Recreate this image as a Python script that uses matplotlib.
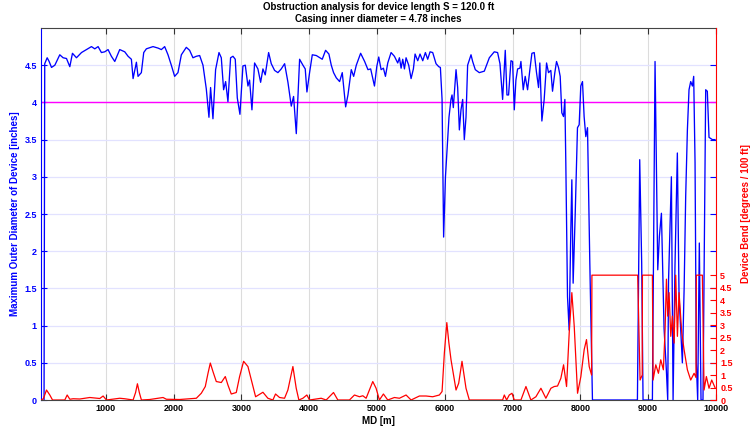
import numpy as np
import matplotlib.pyplot as plt

# maximum device outer diameter along the well [inches]
od_md = [90, 100, 136, 165, 200, 249, 322, 371, 421, 470, 509, 568, 642, 715, 789, 838, 887, 936, 985,
         1034, 1083, 1133, 1206, 1280, 1329, 1378, 1403, 1452, 1476, 1525, 1560, 1599, 1697, 1771, 1820,
         1869, 1918, 1967, 2016, 2065, 2115, 2188, 2237, 2286, 2336, 2385, 2434, 2483, 2522, 2546, 2581,
         2620, 2670, 2704, 2738, 2768, 2802, 2841, 2876, 2910, 2940, 2979, 3023, 3058, 3097, 3121, 3156,
         3195, 3244, 3284, 3318, 3352, 3402, 3441, 3490, 3539, 3588, 3638, 3687, 3736, 3770, 3810, 3859,
         3908, 3942, 3967, 4006, 4046, 4105, 4193, 4242, 4291, 4326, 4360, 4400, 4449, 4488, 4538, 4572,
         4621, 4656, 4695, 4759, 4818, 4867, 4907, 4963, 4997, 5026, 5061, 5095, 5125, 5159, 5208, 5257,
         5306, 5331, 5356, 5380, 5405, 5429, 5468, 5503, 5537, 5562, 5601, 5635, 5675, 5714, 5748, 5783,
         5822, 5871, 5911, 5935, 5960, 5983, 6010, 6027, 6062, 6091, 6107, 6126, 6166, 6190, 6215, 6239,
         6264, 6288, 6313, 6337, 6387, 6411, 6450, 6509, 6583, 6657, 6730, 6779, 6814, 6853, 6892, 6917,
         6941, 6976, 7000, 7025, 7049, 7074, 7108, 7123, 7157, 7186, 7221, 7255, 7285, 7319, 7353, 7383,
         7402, 7432, 7466, 7501, 7530, 7564, 7589, 7623, 7648, 7677, 7702, 7726, 7751, 7771, 7785, 7810,
         7834, 7859, 7874, 7893, 7923, 7957, 7982, 8006, 8031, 8055, 8080, 8105, 8139, 8178, 8841, 8875,
         8904, 8924, 9062, 9101, 9141, 9165, 9195, 9234, 9268, 9288, 9300, 9342, 9367, 9395, 9430, 9455,
         9480, 9504, 9530, 9553, 9578, 9602, 9627, 9652, 9671, 9691, 9710, 9730, 9754, 9779, 9808, 9830,
         9848, 9872, 9897, 9946, 9985]
od_in = [0, 4.52, 4.60, 4.55, 4.47, 4.50, 4.64, 4.60, 4.59, 4.48, 4.66, 4.60, 4.67, 4.71, 4.75, 4.72, 4.75,
         4.67, 4.68, 4.71, 4.62, 4.55, 4.71, 4.68, 4.62, 4.58, 4.32, 4.54, 4.35, 4.40, 4.67, 4.72, 4.75,
         4.73, 4.71, 4.75, 4.64, 4.50, 4.35, 4.40, 4.64, 4.74, 4.70, 4.60, 4.62, 4.63, 4.50, 4.18, 3.80,
         4.20, 3.78, 4.44, 4.67, 4.60, 4.17, 4.28, 4.01, 4.60, 4.62, 4.58, 4.06, 3.84, 4.49, 4.50, 4.22,
         4.30, 3.90, 4.53, 4.45, 4.27, 4.45, 4.37, 4.67, 4.52, 4.43, 4.40, 4.45, 4.52, 4.27, 3.95, 4.08,
         3.58, 4.58, 4.50, 4.45, 4.14, 4.40, 4.64, 4.63, 4.58, 4.70, 4.65, 4.50, 4.40, 4.33, 4.28, 4.40,
         3.94, 4.10, 4.44, 4.35, 4.50, 4.66, 4.55, 4.44, 4.45, 4.22, 4.48, 4.61, 4.44, 4.46, 4.35, 4.53,
         4.67, 4.62, 4.53, 4.60, 4.46, 4.58, 4.45, 4.60, 4.50, 4.32, 4.45, 4.65, 4.56, 4.65, 4.56, 4.67,
         4.58, 4.68, 4.67, 4.52, 4.48, 4.47, 4.04, 2.19, 3.00, 3.27, 3.80, 4.04, 4.10, 3.93, 4.44, 4.20,
         3.63, 3.90, 4.04, 3.50, 3.80, 4.50, 4.64, 4.55, 4.44, 4.40, 4.42, 4.60, 4.68, 4.67, 4.52, 4.04,
         4.70, 4.10, 4.10, 4.56, 4.55, 3.90, 4.30, 4.45, 4.46, 4.55, 4.17, 4.35, 4.17, 4.44, 4.66, 4.67,
         4.40, 4.20, 4.53, 3.75, 4.04, 4.53, 4.40, 4.43, 4.15, 4.40, 4.55, 4.47, 4.35, 3.86, 3.81, 4.04,
         3.19, 1.39, 0.94, 2.29, 2.96, 1.57, 2.48, 3.66, 3.70, 4.22, 4.28, 3.81, 3.54, 3.66, 1.84, 0,
         0, 3.23, 1.84, 0, 0, 4.55, 1.75, 2.20, 2.51, 0.96, 0.40, 0, 1.60, 3.00, 0, 1.80, 3.32, 1.39,
         0.95, 0.50, 1.50, 2.74, 3.63, 4.17, 4.28, 4.22, 4.35, 3.19, 0.50, 0, 2.11, 0, 0, 2.30, 4.17,
         4.15, 3.53, 3.50, 3.50]

# device bend [degrees / 100 ft]
bend_md = [45, 80, 126, 175, 215, 396, 431, 470, 519, 617, 765, 838, 912, 961, 1010, 1206, 1280, 1403,
           1440, 1467, 1495, 1526, 1648, 1845, 1894, 2090, 2336, 2409, 2468, 2508, 2542, 2581, 2630, 2704,
           2763, 2802, 2851, 2925, 2974, 3033, 3097, 3146, 3210, 3318, 3391, 3465, 3504, 3563, 3637, 3686,
           3760, 3809, 3848, 3907, 3966, 4005, 4177, 4251, 4359, 4423, 4594, 4668, 4742, 4791, 4840, 4938,
           4987, 5036, 5095, 5159, 5257, 5331, 5429, 5503, 5626, 5724, 5822, 5920, 5960, 5994, 6030, 6060,
           6092, 6166, 6205, 6254, 6313, 6362, 6853, 6878, 6912, 6951, 6991, 7025, 7123, 7197, 7270, 7344,
           7418, 7491, 7565, 7614, 7663, 7712, 7752, 7796, 7835, 7874, 7909, 7958, 8007, 8056, 8090, 8130,
           8165, 8170, 8845, 8880, 8912, 8915, 9062, 9072, 9112, 9151, 9185, 9224, 9249, 9269, 9288, 9308,
           9333, 9357, 9382, 9406, 9431, 9455, 9495, 9529, 9578, 9627, 9677, 9705, 9710, 9799, 9824, 9858,
           9897, 9937, 9985]
bend_deg = [0, 0.05, 0.40, 0.20, 0, 0, 0.20, 0.03, 0.05, 0.04, 0.10, 0.08, 0.06, 0.16, 0, 0.07, 0.05, 0,
            0.30, 0.65, 0.30, 0, 0.02, 0.10, 0.03, 0.02, 0.07, 0.27, 0.54, 1.07, 1.48, 1.14, 0.74, 0.70,
            0.94, 0.60, 0.24, 0.30, 0.94, 1.55, 1.34, 0.81, 0.13, 0.31, 0.07, 0, 0.24, 0.10, 0.07, 0.40,
            1.34, 0.47, 0, 0.07, 0.20, 0, 0.07, 0, 0.30, 0, 0, 0.20, 0.13, 0.17, 0.07, 0.74,
            0.47, 0, 0.24, 0, 0.10, 0.07, 0.20, 0, 0.16, 0.16, 0.13, 0.20, 0.34, 1.89, 3.10, 2.30,
            1.61, 0.40, 0.67, 1.55, 0.47, 0, 0, 0.20, 0, 0.20, 0.27, 0, 0, 0.54, 0, 0.13,
            0.47, 0.07, 0.47, 0.54, 0.56, 0.87, 1.41, 0.54, 2.69, 4.30, 2.96, 0.27, 0.94, 2.02, 2.42, 1.34,
            1.00, 5.00, 5.00, 0.80, 1.00, 5.00, 5.00, 0.80, 1.41, 1.07, 1.61, 1.21, 2.82, 4.84, 3.36, 4.30,
            2.55, 3.36, 2.28, 5.00, 2.55, 4.30, 2.69, 2.02, 1.21, 0.80, 1.07, 0.90, 5.00, 5.00, 0.40, 0.94,
            0.47, 0.80, 0.50]

casing_limit = 4.0
md_ticks = [1000, 2000, 3000, 4000, 5000, 6000, 7000, 8000, 9000, 10000]
od_ticks = [0, 0.5, 1, 1.5, 2, 2.5, 3, 3.5, 4, 4.5]
bend_ticks = [0, 0.5, 1, 1.5, 2, 2.5, 3, 3.5, 4, 4.5, 5]

plt.rcParams['font.family'] = ['Liberation Sans', 'DejaVu Sans']
plt.rcParams['font.weight'] = 'bold'
plt.rcParams['font.size'] = 6.5

BLUE = '#0000ff'
RED = '#ff0000'

fig = plt.figure(figsize=(7.51, 4.28), dpi=100)
ax = fig.add_axes([41 / 751, 1 - 400 / 428, 675 / 751, 372 / 428])
ax2 = ax.twinx()

ax.set_xlim(45, 10000)
ax.set_ylim(0, 5)
ax2.set_ylim(0, 14.9)

# grid: gray verticals, pale blue horizontals
for m in md_ticks:
    ax.axvline(m, color='#dcdcdc', lw=0.8, zorder=0)
for v in od_ticks[1:]:
    ax.axhline(v, color='#e2e2ff', lw=0.9, zorder=0)

ax.plot(od_md, od_in, color=BLUE, lw=0.95, zorder=3)
ax.axhline(casing_limit, color='#ff00ff', lw=1.0, zorder=2)
ax2.plot(bend_md, bend_deg, color=RED, lw=0.9, zorder=3)

fmt = lambda v: ('%g' % v)
ax.set_xticks(md_ticks)
ax.set_xticklabels([str(m) for m in md_ticks])
ax.set_yticks(od_ticks)
ax.set_yticklabels([fmt(v) for v in od_ticks], color=BLUE)
ax2.set_yticks(bend_ticks)
ax2.set_yticklabels([fmt(v) for v in bend_ticks], color=RED)

ax.tick_params(axis='x', direction='in', length=4, width=0.8, color='#333333', top=True, pad=3)
ax.tick_params(axis='y', direction='in', length=4, width=0.8, color=BLUE, right=True, pad=3)
ax2.tick_params(axis='y', direction='in', length=4, width=0.8, color=RED, pad=3)

for sp in ('top', 'bottom'):
    ax.spines[sp].set_color('#444444')
ax.spines['left'].set_color(BLUE)
ax2.spines['left'].set_visible(False)
ax2.spines['right'].set_color(RED)
ax2.spines['top'].set_visible(False)
ax2.spines['bottom'].set_visible(False)
ax.spines['right'].set_visible(False)

ax.set_xlabel('MD [m]', fontsize=7, fontweight='bold', labelpad=2)
ax.set_ylabel('Maximum Outer Diameter of Device [inches]', color=BLUE, fontsize=7,
              fontweight='bold', labelpad=3)
ax2.set_ylabel('Device Bend [degrees / 100 ft]', color=RED, fontsize=7, fontweight='bold', labelpad=6)
ax.set_title('Obstruction analysis for device length S = 120.0 ft\nCasing inner diameter = 4.78 inches',
             fontsize=7, fontweight='bold', pad=4, linespacing=1.3)

fig.savefig('out.png', dpi=100)
